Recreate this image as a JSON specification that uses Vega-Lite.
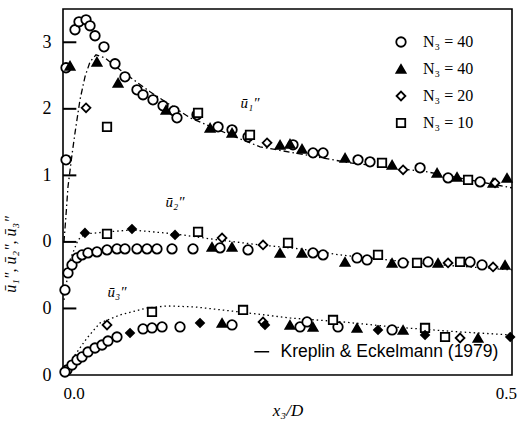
{
  "$schema": "https://vega.github.io/schema/vega-lite/v6.json",
  "width": 449,
  "height": 366,
  "autosize": {"type": "none"},
  "padding": {"left": 63, "top": 9, "right": 5, "bottom": 60},
  "background": "white",
  "config": {
    "view": {"stroke": "black", "strokeWidth": 1.6},
    "font": "Liberation Serif"
  },
  "datasets": {
    "pts": [
      {"s": "a", "x": 0.0034, "y": 1.233}, {"s": "a", "x": 0.0135, "y": 3.188}, {"s": "a", "x": 0.018, "y": 3.308},
      {"s": "a", "x": 0.0259, "y": 3.338}, {"s": "a", "x": 0.0304, "y": 3.248}, {"s": "a", "x": 0.036, "y": 3.098},
      {"s": "a", "x": 0.0461, "y": 2.932}, {"s": "a", "x": 0.0585, "y": 2.677}, {"s": "a", "x": 0.0697, "y": 2.481},
      {"s": "a", "x": 0.0832, "y": 2.286}, {"s": "a", "x": 0.09, "y": 2.211}, {"s": "a", "x": 0.1012, "y": 2.135},
      {"s": "a", "x": 0.1125, "y": 2.045}, {"s": "a", "x": 0.1249, "y": 1.97}, {"s": "a", "x": 0.1282, "y": 1.865},
      {"s": "a", "x": 0.1507, "y": 1.91}, {"s": "a", "x": 0.1744, "y": 1.729}, {"s": "a", "x": 0.1901, "y": 1.684},
      {"s": "a", "x": 0.2081, "y": 1.579}, {"s": "a", "x": 0.2587, "y": 1.459}, {"s": "a", "x": 0.2812, "y": 1.338},
      {"s": "a", "x": 0.2925, "y": 1.338}, {"s": "a", "x": 0.3318, "y": 1.233}, {"s": "a", "x": 0.3453, "y": 1.203},
      {"s": "a", "x": 0.4016, "y": 1.113}, {"s": "a", "x": 0.4331, "y": 0.962}, {"s": "a", "x": 0.4691, "y": 0.902},
      {"s": "a", "x": 0.0034, "y": 2.617},
      {"s": "b", "x": 0.0079, "y": 2.647}, {"s": "b", "x": 0.0382, "y": 2.707}, {"s": "b", "x": 0.0619, "y": 2.391},
      {"s": "b", "x": 0.1159, "y": 1.985}, {"s": "b", "x": 0.1654, "y": 1.714}, {"s": "b", "x": 0.1901, "y": 1.639},
      {"s": "b", "x": 0.2441, "y": 1.459}, {"s": "b", "x": 0.2553, "y": 1.474}, {"s": "b", "x": 0.2688, "y": 1.398},
      {"s": "b", "x": 0.3172, "y": 1.263}, {"s": "b", "x": 0.3701, "y": 1.158}, {"s": "b", "x": 0.4207, "y": 1.038},
      {"s": "b", "x": 0.4432, "y": 0.977}, {"s": "b", "x": 0.4994, "y": 0.962}, {"s": "b", "x": 0.4837, "y": 0.887},
      {"s": "c", "x": 0.0259, "y": 2.015}, {"s": "c", "x": 0.2295, "y": 1.489}, {"s": "c", "x": 0.3825, "y": 1.083},
      {"s": "c", "x": 0.4859, "y": 0.887},
      {"s": "d", "x": 0.0495, "y": 1.729}, {"s": "d", "x": 0.1519, "y": 1.94}, {"s": "d", "x": 0.3588, "y": 1.188},
      {"s": "d", "x": 0.4556, "y": 0.932}, {"s": "d", "x": 0.2103, "y": 1.609},

      {"s": "a", "x": 0.0022, "y": -0.722}, {"s": "a", "x": 0.0056, "y": -0.466}, {"s": "a", "x": 0.0101, "y": -0.346},
      {"s": "a", "x": 0.0157, "y": -0.241}, {"s": "a", "x": 0.0214, "y": -0.195}, {"s": "a", "x": 0.0281, "y": -0.165},
      {"s": "a", "x": 0.0382, "y": -0.15}, {"s": "a", "x": 0.0495, "y": -0.12}, {"s": "a", "x": 0.0607, "y": -0.105},
      {"s": "a", "x": 0.0697, "y": -0.105}, {"s": "a", "x": 0.0832, "y": -0.105}, {"s": "a", "x": 0.0945, "y": -0.105},
      {"s": "a", "x": 0.1057, "y": -0.105}, {"s": "a", "x": 0.1226, "y": -0.105}, {"s": "a", "x": 0.1462, "y": -0.105},
      {"s": "a", "x": 0.1766, "y": -0.09}, {"s": "a", "x": 0.2081, "y": -0.12}, {"s": "a", "x": 0.2812, "y": -0.165},
      {"s": "a", "x": 0.2925, "y": -0.195}, {"s": "a", "x": 0.3307, "y": -0.241}, {"s": "a", "x": 0.342, "y": -0.271},
      {"s": "a", "x": 0.3825, "y": -0.316}, {"s": "a", "x": 0.4106, "y": -0.301}, {"s": "a", "x": 0.4578, "y": -0.301},
      {"s": "a", "x": 0.4713, "y": -0.346},
      {"s": "b", "x": 0.1676, "y": -0.075}, {"s": "b", "x": 0.1901, "y": -0.075}, {"s": "b", "x": 0.2688, "y": -0.165},
      {"s": "b", "x": 0.3172, "y": -0.301}, {"s": "b", "x": 0.3701, "y": -0.316}, {"s": "b", "x": 0.4218, "y": -0.316},
      {"s": "b", "x": 0.4972, "y": -0.346}, {"s": "b", "x": 0.2441, "y": -0.165},
      {"s": "c", "x": 0.1789, "y": 0.06}, {"s": "c", "x": 0.225, "y": -0.045}, {"s": "c", "x": 0.4331, "y": -0.316},
      {"s": "c", "x": 0.4837, "y": -0.376},
      {"s": "d", "x": 0.0495, "y": 0.12}, {"s": "d", "x": 0.1519, "y": 0.15}, {"s": "d", "x": 0.2531, "y": -0.015},
      {"s": "d", "x": 0.3543, "y": -0.195}, {"s": "d", "x": 0.3982, "y": -0.316}, {"s": "d", "x": 0.4466, "y": -0.301},
      {"s": "e", "x": 0.0247, "y": 0.135}, {"s": "e", "x": 0.0776, "y": 0.195}, {"s": "e", "x": 0.126, "y": 0.105},

      {"s": "a", "x": 0.0045, "y": -1.925}, {"s": "a", "x": 0.0101, "y": -1.85}, {"s": "a", "x": 0.0157, "y": -1.774},
      {"s": "a", "x": 0.0214, "y": -1.729}, {"s": "a", "x": 0.0281, "y": -1.654}, {"s": "a", "x": 0.036, "y": -1.594},
      {"s": "a", "x": 0.0439, "y": -1.549}, {"s": "a", "x": 0.0506, "y": -1.489}, {"s": "a", "x": 0.0607, "y": -1.429},
      {"s": "a", "x": 0.09, "y": -1.308}, {"s": "a", "x": 0.1001, "y": -1.293}, {"s": "a", "x": 0.1114, "y": -1.278},
      {"s": "a", "x": 0.1316, "y": -1.278}, {"s": "a", "x": 0.1901, "y": -1.248}, {"s": "a", "x": 0.2666, "y": -1.278},
      {"s": "a", "x": 0.2745, "y": -1.203}, {"s": "a", "x": 0.3093, "y": -1.278}, {"s": "a", "x": 0.3701, "y": -1.323},
      {"s": "a", "x": 0.0022, "y": -1.955},
      {"s": "b", "x": 0.1789, "y": -1.218}, {"s": "b", "x": 0.2553, "y": -1.248}, {"s": "b", "x": 0.2812, "y": -1.278},
      {"s": "b", "x": 0.3307, "y": -1.293}, {"s": "b", "x": 0.3825, "y": -1.323}, {"s": "b", "x": 0.4668, "y": -1.444},
      {"s": "c", "x": 0.0495, "y": -1.248}, {"s": "c", "x": 0.4466, "y": -1.444}, {"s": "c", "x": 0.225, "y": -1.203},
      {"s": "d", "x": 0.1001, "y": -1.053}, {"s": "d", "x": 0.2025, "y": -1.023}, {"s": "d", "x": 0.3037, "y": -1.173},
      {"s": "d", "x": 0.4072, "y": -1.293}, {"s": "d", "x": 0.4297, "y": -1.429},
      {"s": "e", "x": 0.0754, "y": -1.368}, {"s": "e", "x": 0.2272, "y": -1.248}, {"s": "e", "x": 0.1541, "y": -1.218},
      {"s": "e", "x": 0.3543, "y": -1.323}, {"s": "e", "x": 0.4072, "y": -1.398}, {"s": "e", "x": 0.503, "y": -1.429}
    ],
    "lines": [
      {"src": "Kreplin & Eckelmann (1979)", "c": "u1", "i": 1, "x": 0.0011, "y": 0},
      {"src": "Kreplin & Eckelmann (1979)", "c": "u1", "i": 2, "x": 0.0034, "y": 0.406},
      {"src": "Kreplin & Eckelmann (1979)", "c": "u1", "i": 3, "x": 0.0056, "y": 0.827},
      {"src": "Kreplin & Eckelmann (1979)", "c": "u1", "i": 4, "x": 0.0101, "y": 1.308},
      {"src": "Kreplin & Eckelmann (1979)", "c": "u1", "i": 5, "x": 0.0135, "y": 1.639},
      {"src": "Kreplin & Eckelmann (1979)", "c": "u1", "i": 6, "x": 0.0191, "y": 2.135},
      {"src": "Kreplin & Eckelmann (1979)", "c": "u1", "i": 7, "x": 0.0247, "y": 2.481},
      {"src": "Kreplin & Eckelmann (1979)", "c": "u1", "i": 8, "x": 0.0304, "y": 2.707},
      {"src": "Kreplin & Eckelmann (1979)", "c": "u1", "i": 9, "x": 0.0371, "y": 2.812},
      {"src": "Kreplin & Eckelmann (1979)", "c": "u1", "i": 10, "x": 0.0472, "y": 2.767},
      {"src": "Kreplin & Eckelmann (1979)", "c": "u1", "i": 11, "x": 0.0641, "y": 2.586},
      {"src": "Kreplin & Eckelmann (1979)", "c": "u1", "i": 12, "x": 0.0979, "y": 2.256},
      {"src": "Kreplin & Eckelmann (1979)", "c": "u1", "i": 13, "x": 0.1429, "y": 1.865},
      {"src": "Kreplin & Eckelmann (1979)", "c": "u1", "i": 14, "x": 0.1879, "y": 1.609},
      {"src": "Kreplin & Eckelmann (1979)", "c": "u1", "i": 15, "x": 0.2216, "y": 1.429},
      {"src": "Kreplin & Eckelmann (1979)", "c": "u1", "i": 16, "x": 0.3228, "y": 1.188},
      {"src": "Kreplin & Eckelmann (1979)", "c": "u1", "i": 17, "x": 0.4094, "y": 1.053},
      {"src": "Kreplin & Eckelmann (1979)", "c": "u1", "i": 18, "x": 0.505, "y": 0.812},
      {"src": "Kreplin & Eckelmann (1979)", "c": "u2", "i": 1, "x": 0.0011, "y": -0.872},
      {"src": "Kreplin & Eckelmann (1979)", "c": "u2", "i": 2, "x": 0.0079, "y": -0.271},
      {"src": "Kreplin & Eckelmann (1979)", "c": "u2", "i": 3, "x": 0.0169, "y": 0.03},
      {"src": "Kreplin & Eckelmann (1979)", "c": "u2", "i": 4, "x": 0.0247, "y": 0.12},
      {"src": "Kreplin & Eckelmann (1979)", "c": "u2", "i": 5, "x": 0.0495, "y": 0.15},
      {"src": "Kreplin & Eckelmann (1979)", "c": "u2", "i": 6, "x": 0.0776, "y": 0.18},
      {"src": "Kreplin & Eckelmann (1979)", "c": "u2", "i": 7, "x": 0.126, "y": 0.12},
      {"src": "Kreplin & Eckelmann (1979)", "c": "u2", "i": 8, "x": 0.1744, "y": 0.03},
      {"src": "Kreplin & Eckelmann (1979)", "c": "u2", "i": 9, "x": 0.2216, "y": -0.045},
      {"src": "Kreplin & Eckelmann (1979)", "c": "u2", "i": 10, "x": 0.2666, "y": -0.105},
      {"src": "Kreplin & Eckelmann (1979)", "c": "u2", "i": 11, "x": 0.3116, "y": -0.195},
      {"src": "Kreplin & Eckelmann (1979)", "c": "u2", "i": 12, "x": 0.4094, "y": -0.331},
      {"src": "Kreplin & Eckelmann (1979)", "c": "u2", "i": 13, "x": 0.505, "y": -0.421},
      {"src": "Kreplin & Eckelmann (1979)", "c": "u3", "i": 1, "x": 0.0011, "y": -2.0},
      {"src": "Kreplin & Eckelmann (1979)", "c": "u3", "i": 2, "x": 0.0135, "y": -1.699},
      {"src": "Kreplin & Eckelmann (1979)", "c": "u3", "i": 3, "x": 0.027, "y": -1.444},
      {"src": "Kreplin & Eckelmann (1979)", "c": "u3", "i": 4, "x": 0.0416, "y": -1.218},
      {"src": "Kreplin & Eckelmann (1979)", "c": "u3", "i": 5, "x": 0.0641, "y": -1.098},
      {"src": "Kreplin & Eckelmann (1979)", "c": "u3", "i": 6, "x": 0.0945, "y": -0.992},
      {"src": "Kreplin & Eckelmann (1979)", "c": "u3", "i": 7, "x": 0.117, "y": -0.962},
      {"src": "Kreplin & Eckelmann (1979)", "c": "u3", "i": 8, "x": 0.1485, "y": -0.977},
      {"src": "Kreplin & Eckelmann (1979)", "c": "u3", "i": 9, "x": 0.1991, "y": -1.053},
      {"src": "Kreplin & Eckelmann (1979)", "c": "u3", "i": 10, "x": 0.2553, "y": -1.143},
      {"src": "Kreplin & Eckelmann (1979)", "c": "u3", "i": 11, "x": 0.315, "y": -1.203},
      {"src": "Kreplin & Eckelmann (1979)", "c": "u3", "i": 12, "x": 0.3712, "y": -1.278},
      {"src": "Kreplin & Eckelmann (1979)", "c": "u3", "i": 13, "x": 0.4466, "y": -1.353},
      {"src": "Kreplin & Eckelmann (1979)", "c": "u3", "i": 14, "x": 0.505, "y": -1.398}
    ],
    "tk": [
      {"y": 3, "x0": 0, "x1": 0.015}, {"y": 2, "x0": 0, "x1": 0.015}, {"y": 1, "x0": 0, "x1": 0.015},
      {"y": 0, "x0": 0, "x1": 0.015}, {"y": -1, "x0": 0, "x1": 0.015}
    ],
    "notes": [
      {"t": "ū₁″", "x": 0.2103, "y": 2.09},
      {"t": "ū₂″", "x": 0.126, "y": 0.6},
      {"t": "ū₃″", "x": 0.0607, "y": -0.75}
    ]
  },
  "layer": [
    {
      "data": {"name": "lines"},
      "mark": {"type": "line", "strokeWidth": 1.3},
      "encoding": {
        "x": {
          "field": "x", "type": "quantitative",
          "scale": {"domain": [0, 0.505], "nice": false, "zero": false},
          "axis": {
            "values": [0, 0.5], "format": ".1f", "grid": false, "ticks": false, "domain": false,
            "labelFont": "Liberation Serif", "labelFontSize": 17, "labelColor": "black", "labelPadding": 10,
            "labelAlign": {"condition": {"test": "datum.value == 0", "value": "left"}, "value": "right"},
            "labelOffset": {"condition": {"test": "datum.value == 0", "value": 0}, "value": 9},
            "title": "x₃/D", "titleFont": "Liberation Serif", "titleFontStyle": "italic", "titleFontWeight": "normal",
            "titleFontSize": 17, "titleColor": "black", "titleY": 27, "titleBaseline": "top"
          }
        },
        "y": {
          "field": "y", "type": "quantitative",
          "scale": {"domain": [-2, 3.5], "nice": false, "zero": false},
          "axis": {
            "values": [-2, -1, 0, 1, 2, 3], "format": "d", "grid": false, "domain": false, "ticks": false,
            "labelExpr": "datum.value <= 0 ? '0' : format(datum.value, 'd')",
            "labelFont": "Liberation Serif", "labelFontSize": 18, "labelColor": "black", "labelPadding": 12,
            "title": "ū₁″, ū₂″, ū₃″", "titleFont": "Liberation Serif", "titleFontStyle": "italic", "titleFontWeight": "normal",
            "titleFontSize": 16, "titleColor": "black", "titleX": -45, "titleY": 245, "titleAngle": -90
          }
        },
        "order": {"field": "i", "type": "quantitative"},
        "detail": {"field": "c"},
        "stroke": {
          "field": "src", "type": "nominal",
          "scale": {"range": ["black"]},
          "legend": {
            "orient": "none", "legendX": 190, "legendY": 334, "title": null, "padding": 0,
            "symbolType": "stroke", "symbolSize": 220, "symbolStrokeWidth": 1.5, "symbolStrokeColor": "black",
            "labelFont": "Liberation Sans", "labelFontSize": 17.5, "labelColor": "black", "labelOffset": 10, "labelLimit": 400
          }
        },
        "strokeDash": {
          "field": "c", "type": "nominal",
          "scale": {"domain": ["u1", "u2", "u3"], "range": [[6, 3, 1.5, 3], [1.5, 3], [1.5, 3]]},
          "legend": null
        }
      }
    },
    {
      "data": {"name": "pts"},
      "mark": {"type": "point", "filled": true, "stroke": "black", "strokeWidth": 1.8, "opacity": 1},
      "encoding": {
        "x": {"field": "x", "type": "quantitative"},
        "y": {"field": "y", "type": "quantitative"},
        "shape": {
          "field": "s", "type": "nominal",
          "scale": {"domain": ["a", "b", "c", "d", "e"], "range": ["circle", "triangle-up", "diamond", "square", "diamond"]},
          "legend": {
            "orient": "none", "legendX": 330, "legendY": 25, "title": null, "padding": 0,
            "values": ["a", "b", "c", "d"],
            "labelExpr": "datum.value == 'c' ? 'N₃ = 20' : datum.value == 'd' ? 'N₃ = 10' : 'N₃ = 40'",
            "labelFont": "Liberation Serif", "labelFontSize": 16, "labelColor": "black", "labelOffset": 14,
            "rowPadding": 10, "symbolStrokeWidth": 1.8, "symbolStrokeColor": "black"
          }
        },
        "fill": {
          "field": "s", "type": "nominal",
          "scale": {"domain": ["a", "b", "c", "d", "e"], "range": ["white", "black", "white", "white", "black"]}
        },
        "size": {
          "field": "s", "type": "nominal",
          "scale": {"domain": ["a", "b", "c", "d", "e"], "range": [90, 65, 45, 85, 50]}
        }
      }
    },
    {
      "data": {"name": "notes"},
      "mark": {"type": "text", "font": "Liberation Serif", "fontStyle": "italic", "fontSize": 15, "color": "black"},
      "encoding": {
        "x": {"field": "x", "type": "quantitative"},
        "y": {"field": "y", "type": "quantitative"},
        "text": {"field": "t"}
      }
    },
    {
      "data": {"name": "tk"},
      "mark": {"type": "rule", "stroke": "black", "strokeWidth": 2, "opacity": 1},
      "encoding": {
        "x": {"field": "x0", "type": "quantitative"},
        "x2": {"field": "x1"},
        "y": {"field": "y", "type": "quantitative"}
      }
    }
  ]
}
